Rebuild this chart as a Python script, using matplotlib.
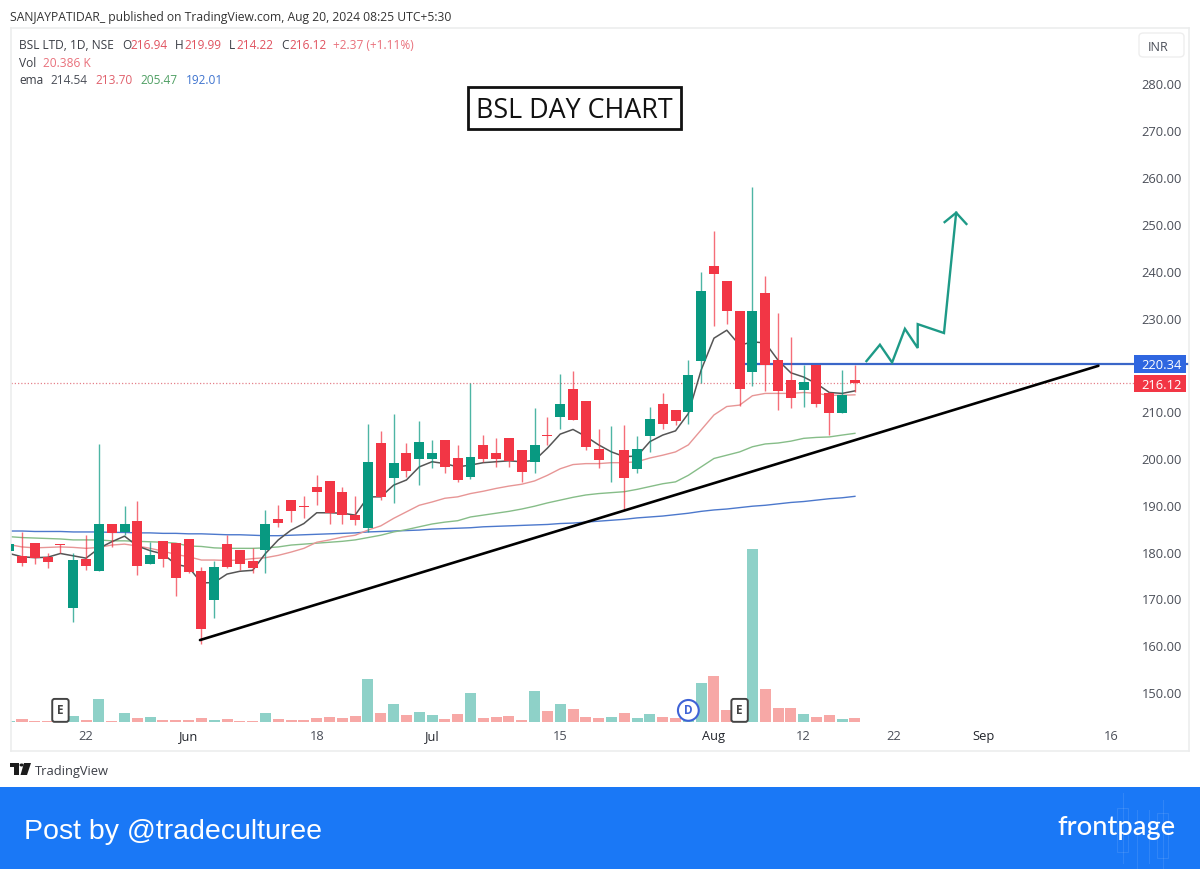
import numpy as np
import matplotlib
matplotlib.use('Agg')
import matplotlib.pyplot as plt
from matplotlib.patches import Rectangle, FancyBboxPatch, Polygon, Circle

plt.rcParams['font.family'] = ['Open Sans', 'DejaVu Sans']

# daily candles
opens = [180.3, 179.3, 182.0, 179.0, 181.9, 168.1, 178.6, 176.0, 186.2, 184.3, 186.8, 177.5, 182.4, 182.0, 182.8, 176.0, 169.8,
         181.8, 180.5, 178.1, 180.5, 187.1, 191.2, 189.9, 194.0, 195.2, 193.0, 188.1, 185.2, 203.3, 195.9, 201.3, 199.9, 199.9,
         204.0, 200.2, 196.1, 203.0, 201.2, 204.5, 201.9, 199.3, 205.2, 209.0, 214.9, 212.3, 202.1, 199.9, 201.9, 197.8, 205.0,
         211.7, 210.5, 210.0, 221.0, 241.2, 238.1, 231.6, 218.6, 235.5, 221.2, 216.8, 214.7, 220.0, 214.0, 209.9, 216.94]
highs = [182.0, 184.4, 182.0, 180.0, 181.9, 179.9, 183.7, 203.2, 186.2, 189.9, 191.0, 182.3, 182.4, 182.0, 182.8, 176.9, 178.2,
         183.7, 180.5, 180.9, 189.1, 190.2, 191.2, 192.1, 196.5, 195.2, 194.0, 192.1, 207.4, 205.9, 209.5, 203.5, 208.1, 204.0,
         204.0, 203.0, 216.3, 205.1, 204.5, 204.5, 201.9, 210.9, 209.0, 218.1, 218.8, 212.3, 206.5, 207.1, 207.2, 204.9, 211.1,
         214.1, 210.5, 221.1, 239.9, 248.6, 238.1, 231.6, 258.1, 239.1, 231.1, 226.0, 220.0, 220.0, 214.4, 219.1, 219.99]
lows = [180.0, 177.2, 177.5, 176.8, 179.9, 165.1, 176.2, 176.0, 181.2, 183.7, 175.2, 177.5, 176.9, 170.7, 175.6, 160.4, 166.1,
        176.6, 176.2, 175.7, 175.6, 185.5, 186.6, 187.3, 190.1, 186.1, 186.1, 185.9, 184.4, 191.2, 190.5, 196.1, 194.5, 198.1,
        197.1, 195.1, 195.8, 199.4, 198.2, 198.2, 195.0, 197.1, 203.0, 206.5, 208.3, 202.0, 198.1, 195.0, 189.1, 196.9, 201.5,
        206.3, 207.2, 207.4, 216.2, 228.4, 228.8, 211.4, 215.6, 214.6, 210.5, 210.9, 211.2, 211.2, 205.1, 209.9, 214.22]
closes = [181.8, 177.8, 178.9, 178.0, 181.6, 178.4, 177.2, 186.2, 184.2, 186.0, 177.2, 179.4, 178.7, 174.5, 175.8, 163.6, 176.9,
          176.9, 177.6, 176.7, 186.2, 186.3, 188.9, 189.8, 192.9, 188.5, 188.0, 186.9, 199.4, 191.9, 199.2, 197.5, 203.7, 201.3,
          198.2, 195.5, 200.4, 199.9, 200.0, 199.6, 197.2, 203.0, 205.0, 211.7, 208.3, 202.6, 199.7, 200.0, 196.0, 202.1, 208.5,
          207.4, 208.1, 218.0, 235.8, 239.5, 231.5, 214.9, 231.6, 220.0, 214.6, 213.0, 216.5, 211.8, 209.8, 213.75, 216.12]

# volume in thousands
volume = [6, 13, 3, 6, 9, 30, 8, 107, 6, 42, 20, 25, 9, 9, 9, 20, 9, 16, 6, 6, 42, 14, 9, 9, 19, 25, 20, 28, 204, 42, 85, 33, 46,
          34, 16, 38, 138, 20, 25, 28, 9, 147, 50, 86, 60, 25, 20, 25, 42, 20, 38, 25, 20, 24, 182, 218, 55, 24, 813, 155, 67, 67,
          38, 25, 33, 16, 20.386]

# the four ema lines
ema_black = [179.8, 179.1, 178.9, 179.0, 179.8, 179.3, 178.8, 180.9, 182.3, 183.5, 181.4, 180.4, 179.7, 177.5, 176.9, 173.5, 173.6,
             175.4, 176.0, 176.2, 179.8, 182.7, 184.8, 186.2, 188.5, 188.5, 188.4, 188.0, 191.9, 191.9, 194.4, 195.5, 198.3, 199.4,
             199.0, 198.3, 198.7, 199.2, 199.4, 199.6, 199.4, 199.7, 202.3, 205.3, 206.3, 204.8, 203.0, 201.5, 200.5, 200.6, 203.7,
             205.1, 206.0, 209.7, 219.0, 225.8, 227.5, 224.3, 225.0, 224.8, 221.1, 218.4, 217.5, 216.1, 214.2, 214.0, 214.54]
ema_red = [181.7, 181.2, 181.0, 181.1, 181.2, 181.1, 180.9, 181.1, 181.6, 181.8, 181.4, 180.9, 180.3, 179.6, 179.1, 178.4, 178.4,
           178.3, 178.4, 178.7, 178.9, 179.4, 180.1, 180.9, 182.2, 182.7, 183.3, 183.7, 184.8, 185.7, 187.3, 188.7, 190.1, 190.8,
           191.6, 191.9, 192.6, 193.1, 193.7, 194.2, 194.6, 195.3, 196.5, 197.9, 198.8, 199.0, 199.0, 199.2, 199.2, 199.4, 200.2,
           200.8, 201.5, 203.0, 206.2, 209.4, 211.2, 211.5, 213.5, 214.0, 214.0, 214.0, 214.2, 214.0, 213.6, 213.6, 213.70]
ema_green = [183.4, 183.2, 183.1, 183.0, 182.9, 182.7, 182.7, 182.7, 182.5, 182.5, 182.4, 182.3, 182.2, 182.0, 181.4, 181.3, 181.0,
             180.9, 180.9, 180.9, 181.0, 181.2, 181.6, 181.8, 182.0, 182.2, 182.4, 182.7, 183.2, 183.7, 184.4, 184.9, 185.5, 186.1,
             186.5, 186.8, 187.6, 188.0, 188.4, 188.8, 189.3, 189.9, 190.6, 191.2, 191.8, 192.3, 192.6, 192.8, 193.0, 193.5, 194.1,
             194.7, 195.1, 196.5, 198.3, 200.1, 200.8, 201.5, 202.6, 203.2, 203.4, 203.8, 204.4, 204.6, 204.7, 205.1, 205.47]
ema_blue = [184.6, 184.6, 184.5, 184.5, 184.5, 184.4, 184.4, 184.4, 184.3, 184.3, 184.2, 184.2, 184.1, 184.1, 184.0, 184.0, 183.9,
            183.8, 183.8, 183.7, 183.6, 183.6, 183.7, 183.8, 183.9, 184.0, 184.1, 184.2, 184.4, 184.5, 184.6, 184.7, 184.8, 185.0,
            185.1, 185.2, 185.3, 185.5, 185.6, 185.7, 185.8, 185.9, 186.0, 186.2, 186.3, 186.5, 186.7, 186.9, 187.1, 187.4, 187.6,
            187.8, 188.1, 188.4, 188.8, 189.1, 189.3, 189.6, 189.9, 190.1, 190.4, 190.7, 190.9, 191.2, 191.5, 191.7, 192.01]

# hand drawn lines, bar number and price
trend_x = [14.89, 85.0]
trend_y = [161.3, 219.9]
arrow_x = [66.9, 67.95, 68.9, 69.9, 70.9, 70.9, 72.95, 73.9]
arrow_y = [220.9, 224.4, 220.6, 227.8, 223.7, 228.8, 226.9, 252.6]
head_x = [73.0, 73.9, 74.7]
head_y = [250.6, 252.6, 250.2]
resistance = 220.34
last_close = 216.12

# 220.00 sits under the blue tag in the original
price_ticks = [280, 270, 260, 250, 240, 230, 210, 200, 190, 180, 170, 160, 150]
date_pos = [6, 14, 24, 33, 43, 55, 62, 69, 76, 86]
date_labels = ['22', 'Jun', '18', 'Jul', '15', 'Aug', '12', '22', 'Sep', '16']

W, H = 1200, 869
RED = '#f23645'
GREEN = '#089981'

fig = plt.figure(figsize=(W / 100, H / 100), dpi=100, facecolor='white')
rect = [10.5 / W, 1 - 751 / H, (1189 - 10.5) / W, (751 - 28) / H]

# volume goes underneath the price pane
ax_vol = fig.add_axes(rect)
ax_vol.set_xlim(0.103, 92.07)
ax_vol.set_ylim(-136.3, 3261.8)
ax_vol.axis('off')

ax = fig.add_axes(rect)
ax.set_xlim(0.103, 92.07)
ax.set_ylim(137.6, 292.07)
ax.patch.set_alpha(0)
ax.set_xticks([])
ax.set_yticks([])
for s in ax.spines.values():
    s.set_color('#eceded')
    s.set_linewidth(1.2)

o = np.array(opens)
h = np.array(highs)
l = np.array(lows)
c = np.array(closes)
v = np.array(volume)
x = np.arange(len(o))
up = c >= o
colors = np.where(up, GREEN, RED)

ax_vol.bar(x, v, width=0.86, color=np.where(up, '#8ed1c8', '#f7a8a6'), linewidth=0)

ax.plot(x, ema_blue, color='#4c78cc', lw=1.0, zorder=2)
ax.plot(x, ema_green, color='#86bd88', lw=1.0, zorder=2)
ax.plot(x, ema_red, color='#e79696', lw=1.0, zorder=2)
ax.plot(x, ema_black, color='#555555', lw=1.1, zorder=2)

ax.axhline(last_close, xmax=0.955, color='#e5808a', lw=0.9, ls=(0, (1, 1.6)), zorder=1)
ax.plot([57.4, 92.07], [resistance, resistance], color='#3a66c8', lw=1.6, zorder=2)

ax.vlines(x, l, h, colors=colors, lw=1.0, alpha=0.72, zorder=3)
ax.bar(x, np.abs(c - o), bottom=np.minimum(o, c), width=0.78, color=colors, linewidth=0, zorder=4)

ax.plot(trend_x, trend_y, color='black', lw=1.9, zorder=5, solid_capstyle='round')
ax.plot(arrow_x, arrow_y, color='#1e9a87', lw=1.7, zorder=5, solid_joinstyle='miter')
ax.plot(head_x, head_y, color='#1e9a87', lw=1.7, zorder=5, solid_joinstyle='miter')

# price scale
for p in price_ticks:
    ax.text(89.96, p, '%.2f' % p, ha='center', va='center_baseline', fontsize=9.3, color='#4a4e58', zorder=6)
for pos, lab in zip(date_pos, date_labels):
    bold = lab in ('Jun', 'Jul', 'Aug', 'Sep')
    ax.text(pos, 141.0, lab, ha='center', va='center_baseline', fontsize=9.3,
            color='#22252c' if bold else '#4a4e58', zorder=6)

# earnings and dividend flags
for pos, lab in [(4, 'E'), (57, 'E')]:
    ax.text(pos, 146.6, lab, ha='center', va='center_baseline', fontsize=8.5, color='#444', weight='bold', zorder=7,
            bbox=dict(boxstyle='round,pad=0.42,rounding_size=0.2', fc='white', ec='#444444', lw=1.4))
ax.text(53, 146.6, 'D', ha='center', va='center_baseline', fontsize=8.5, color='#3f63d6', weight='bold', zorder=7,
        bbox=dict(boxstyle='circle,pad=0.33', fc='white', ec='#3f63d6', lw=1.5))


def ptext(px, py, s, **kw):
    kw.setdefault('va', 'center_baseline')
    kw.setdefault('ha', 'left')
    kw.setdefault('fontsize', 9)
    fig.text(px / W, 1 - py / H, s, **kw)


def prect(x0, y0, x1, y1, **kw):
    fig.add_artist(Rectangle((x0 / W, 1 - y1 / H), (x1 - x0) / W, (y1 - y0) / H,
                             transform=fig.transFigure, **kw))


ptext(10, 16, 'SANJAYPATIDAR_ published on TradingView.com, Aug 20, 2024 08:25 UTC+5:30', color='#333333', fontsize=8.7)

LEG = '#3a3d45'
LRED = '#e0525f'
ptext(19, 44, 'BSL LTD, 1D, NSE', color=LEG, fontsize=8.6)
for px, s, col in [(122, 'O', LEG), (130, '216.94', LRED), (175, 'H', LEG), (184, '219.99', LRED), (229, 'L', LEG),
                   (236, '214.22', LRED), (281, 'C', LEG), (289, '216.12', LRED), (333, '+2.37 (+1.11%)', '#e9707b')]:
    ptext(px, 44, s, color=col, fontsize=8.6)
ptext(19, 62, 'Vol', color=LEG, fontsize=8.6)
ptext(43, 62, '20.386 K', color='#e9707b', fontsize=8.6)
ptext(19, 79, 'ema', color=LEG, fontsize=8.6)
for px, s, col in [(50, '214.54', '#4a4e58'), (95, '213.70', '#e0606c'), (140, '205.47', '#4f9f63'), (186, '192.01', '#3f74cf')]:
    ptext(px, 79, s, color=col, fontsize=8.6)

# title box
prect(468, 87, 681, 129, fc='white', ec='#111111', lw=2.0, zorder=8)
ptext(574.5, 108, 'BSL DAY CHART', ha='center', fontsize=19.4, color='#111111', zorder=9)

# currency button
fig.add_artist(FancyBboxPatch((1139 / W, 1 - 57 / H), 45 / W, 24 / H, transform=fig.transFigure,
                              boxstyle='round,pad=0,rounding_size=0.004', fc='white', ec='#eeeeee', lw=1))
ptext(1158, 46, 'INR', ha='center', color='#4a4e58', fontsize=9)

# last price tags
prect(1134, 355, 1186, 372.5, fc='#2f66e0', ec='none', zorder=8)
ptext(1162, 364, '220.34', ha='center', color='white', fontsize=9.3, zorder=9)
prect(1134, 375, 1186, 392, fc='#f23645', ec='none', zorder=8)
ptext(1162, 384, '216.12', ha='center', color='white', fontsize=9.3, zorder=9)

# TradingView logo
for pts in [[(10, 763), (19, 763), (19, 775), (14, 775), (14, 767), (10, 767)],
            [(24, 763), (31, 763), (27, 775), (20.5, 775)]]:
    fig.add_artist(Polygon([(a / W, 1 - b / H) for a, b in pts], closed=True, transform=fig.transFigure, fc='#1c1c1c', ec='none'))
fig.add_artist(Circle((21.6 / W, 1 - 765 / H), 2.1 / W, transform=fig.transFigure, fc='#1c1c1c', ec='none'))
ptext(35, 770, 'TradingView', color='#3a3d45', fontsize=9.3)

# footer band
prect(0, 787, 1200, 869, fc='#1a78f6', ec='none', zorder=1)
ptext(24, 829, 'Post by @tradeculturee', color='white', fontsize=20.5, family='Liberation Sans', zorder=3)
for x0, x1, y0, y1 in [(1117, 1128, 808, 852), (1157, 1168, 813, 858)]:
    prect(x0, y0, x1, y1, fc='none', ec='white', lw=0.8, alpha=0.1, zorder=2)
for xp, y0, y1 in [(1123, 793, 863), (1137, 810, 869), (1149, 810, 863), (1163, 800, 869)]:
    fig.add_artist(plt.Line2D([xp / W, xp / W], [1 - y0 / H, 1 - y1 / H], color='white', lw=0.8, alpha=0.1,
                              transform=fig.transFigure, zorder=2))
ptext(1057, 825, 'frontpage', color='white', fontsize=19.6, family='Lato', weight='medium', zorder=3)

fig.savefig('out.png', dpi=100)
